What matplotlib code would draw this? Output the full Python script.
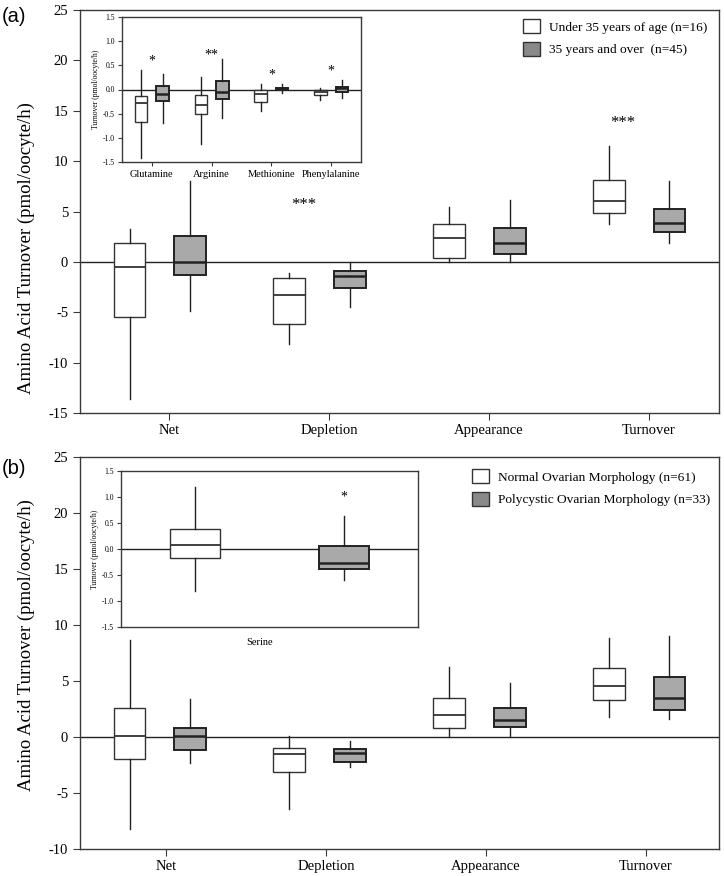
import numpy as np
import matplotlib as mpl
mpl.use("Agg")
import matplotlib.pyplot as plt
from matplotlib.patches import Patch

plt.rcParams['font.family'] = ['Liberation Serif', 'DejaVu Serif']
plt.rcParams['axes.unicode_minus'] = False

categories = ["Net", "Depletion", "Appearance", "Turnover"]
amino_acids = ["Glutamine", "Arginine", "Methionine", "Phenylalanine"]

# five-number summaries: [whisker low, q1, median, q3, whisker high]
age_under35 = [[-13.6, -5.5, -0.53, 1.9, 3.25],
               [-8.2, -6.2, -3.3, -1.6, -1.1],
               [0.0, 0.36, 2.4, 3.75, 5.4],
               [3.75, 4.87, 6.06, 8.1, 11.5]]
age_over35 = [[-4.87, -1.3, 0.03, 2.6, 8.0],
              [-4.5, -2.55, -1.4, -0.93, 0.0],
              [0.0, 0.8, 1.85, 3.35, 6.15],
              [1.85, 2.98, 3.87, 5.23, 8.0]]
age_stars = ["", "***", "", "***"]
age_star_y = [0, 5.6, 0, 13.8]

aa_under35 = [[-1.41, -0.67, -0.27, -0.13, 0.40],
              [-1.13, -0.50, -0.33, -0.11, 0.25],
              [-0.44, -0.25, -0.10, 0.0, 0.124],
              [-0.21, -0.11, -0.05, -0.01, 0.035]]
aa_over35 = [[-0.69, -0.23, -0.10, 0.076, 0.33],
             [-0.59, -0.20, -0.05, 0.166, 0.64],
             [-0.08, -0.02, 0.01, 0.04, 0.12],
             [-0.17, -0.05, 0.03, 0.06, 0.20]]
aa_stars = ["*", "**", "*", "*"]
aa_star_y = [0.59, 0.71, 0.30, 0.39]

morph_normal = [[-8.2, -1.95, 0.06, 2.58, 8.7],
                [-6.4, -3.1, -1.5, -1.0, 0.06],
                [0.0, 0.78, 1.95, 3.5, 6.23],
                [1.83, 3.32, 4.58, 6.2, 8.83]]
morph_pcom = [[-2.3, -1.14, 0.12, 0.78, 3.4],
              [-2.67, -2.22, -1.47, -1.1, -0.33],
              [0.0, 0.87, 1.53, 2.6, 4.82],
              [1.59, 2.4, 3.44, 5.39, 9.0]]

serine_normal = [-0.81, -0.18, 0.07, 0.38, 1.19]
serine_pcom = [-0.6, -0.38, -0.26, 0.064, 0.63]
serine_star_y = 0.99

legend_a = ["Under 35 years of age (n=16)", "35 years and over  (n=45)"]
legend_b = ["Normal Ovarian Morphology (n=61)", "Polycystic Ovarian Morphology (n=33)"]

FILL_GRAY = "#a9a9a9"
SWATCH_GRAY = "#898989"
SPINE = "#3a3a3a"


def to_stats(rows):
    return [dict(whislo=r[0], q1=r[1], med=r[2], q3=r[3], whishi=r[4]) for r in rows]


def draw_boxes(ax, rows, positions, width, gray):
    if gray:
        boxprops = dict(facecolor=FILL_GRAY, edgecolor="#222222", linewidth=1.4)
        medprops = dict(color="#222222", linewidth=1.8)
    else:
        boxprops = dict(facecolor="white", edgecolor="#333333", linewidth=1.0)
        medprops = dict(color="#333333", linewidth=1.3)
    ax.bxp(to_stats(rows), positions=positions, widths=width, patch_artist=True,
           showcaps=False, showfliers=False, boxprops=boxprops, medianprops=medprops,
           whiskerprops=dict(color="#222222", linewidth=1.0), manage_ticks=False,
           zorder=3)


def style_axes(ax, lw=1.0):
    for s in ax.spines.values():
        s.set_color(SPINE)
        s.set_linewidth(lw)


def add_legend(ax, labels, anchor):
    ax.legend([Patch(facecolor="white", edgecolor="#333333"),
               Patch(facecolor=SWATCH_GRAY, edgecolor="#333333")], labels,
              loc="upper left", bbox_to_anchor=anchor,
              bbox_transform=fig.transFigure, frameon=False, fontsize=9.6,
              handlelength=1.25, handleheight=1.25, handletextpad=0.7,
              labelspacing=0.6, borderpad=0, borderaxespad=0)


fig = plt.figure(figsize=(7.24, 8.76), dpi=100)

# ---------- panel (a) ----------
ax_a = fig.add_axes([80/724, 1-413/876, 639/724, 403/876])
idx = np.arange(len(categories))
draw_boxes(ax_a, age_under35, idx - 0.19, 0.2, False)
draw_boxes(ax_a, age_over35, idx + 0.19, 0.2, True)
ax_a.axhline(0, color="#222222", lw=1.0, zorder=2)
for i, (s, y) in enumerate(zip(age_stars, age_star_y)):
    if s:
        ax_a.text(i - 0.1, y, s, ha="center", va="center", fontsize=12)
ax_a.set_xlim(-0.5, 3.5)
ax_a.set_ylim(-15, 25)
ax_a.set_yticks(np.arange(-15, 26, 5))
ax_a.set_xticks(idx + 0.06)
ax_a.set_xticklabels(categories)
ax_a.tick_params(axis="both", labelsize=10.5, length=5, color=SPINE)
ax_a.tick_params(axis="x", pad=3)
ax_a.set_ylabel("Amino Acid Turnover (pmol/oocyte/h)", fontsize=13.5)
ax_a.yaxis.set_label_coords(-0.07, 0.41)
style_axes(ax_a)
add_legend(ax_a, legend_a, (523/724, 1-19/876))

ins_a = fig.add_axes([122/724, 1-162/876, 239/724, 145/876])
idx_aa = np.arange(len(amino_acids))
draw_boxes(ins_a, aa_under35, idx_aa - 0.18, 0.21, False)
draw_boxes(ins_a, aa_over35, idx_aa + 0.18, 0.21, True)
ins_a.axhline(0, color="#222222", lw=1.0, zorder=2)
for i, (s, y) in enumerate(zip(aa_stars, aa_star_y)):
    ins_a.text(i, y, s, ha="center", va="center", fontsize=10)
ins_a.set_xlim(-0.5, 3.5)
ins_a.set_ylim(-1.5, 1.5)
ins_a.set_yticks(np.arange(-1.5, 1.51, 0.5))
ins_a.set_yticklabels([f"{v:.1f}" for v in np.arange(-1.5, 1.51, 0.5)])
ins_a.set_xticks(idx_aa)
ins_a.set_xticklabels(amino_acids)
ins_a.tick_params(axis="y", labelsize=5.5, length=3, color=SPINE, pad=2)
ins_a.tick_params(axis="x", labelsize=7.5, length=3, color=SPINE, pad=3)
ins_a.set_ylabel("Turnover (pmol/oocyte/h)", fontsize=5.5, labelpad=2)
style_axes(ins_a)

# ---------- panel (b) ----------
ax_b = fig.add_axes([80/724, 1-849/876, 639/724, 392/876])
draw_boxes(ax_b, morph_normal, idx - 0.19, 0.2, False)
draw_boxes(ax_b, morph_pcom, idx + 0.19, 0.2, True)
ax_b.axhline(0, color="#222222", lw=1.0, zorder=2)
ax_b.set_xlim(-0.5, 3.5)
ax_b.set_ylim(-10, 25)
ax_b.set_yticks(np.arange(-10, 26, 5))
ax_b.set_xticks(idx + 0.04)
ax_b.set_xticklabels(categories)
ax_b.tick_params(axis="both", labelsize=10.5, length=5, color=SPINE)
ax_b.tick_params(axis="x", pad=3)
ax_b.set_ylabel("Amino Acid Turnover (pmol/oocyte/h)", fontsize=13.5)
ax_b.yaxis.set_label_coords(-0.07, 0.52)
style_axes(ax_b)
add_legend(ax_b, legend_b, (472/724, 1-469/876))

ins_b = fig.add_axes([121/724, 1-627/876, 297/724, 156/876])
draw_boxes(ins_b, [serine_normal], [-0.5], 0.34, False)
draw_boxes(ins_b, [serine_pcom], [0.5], 0.34, True)
ins_b.axhline(0, color="#222222", lw=1.0, zorder=2)
ins_b.text(0.5, serine_star_y, "*", ha="center", va="center", fontsize=10)
ins_b.set_xlim(-1, 1)
ins_b.set_ylim(-1.5, 1.5)
ins_b.set_yticks(np.arange(-1.5, 1.51, 0.5))
ins_b.set_yticklabels([f"{v:.1f}" for v in np.arange(-1.5, 1.51, 0.5)])
ins_b.set_xticks([-0.07])
ins_b.set_xticklabels(["Serine"])
ins_b.tick_params(axis="y", labelsize=5.5, length=3, color=SPINE, pad=2)
ins_b.tick_params(axis="x", labelsize=7.5, length=0, pad=8)
ins_b.set_ylabel("Turnover (pmol/oocyte/h)", fontsize=5.5, labelpad=2)
style_axes(ins_b)

fig.text(2/724, 1-16/876, "(a)", family=["Liberation Sans", "DejaVu Sans"],
         fontsize=14.5, va="center", ha="left")
fig.text(2/724, 1-468/876, "(b)", family=["Liberation Sans", "DejaVu Sans"],
         fontsize=14.5, va="center", ha="left")

fig.savefig("out.png", dpi=100)
